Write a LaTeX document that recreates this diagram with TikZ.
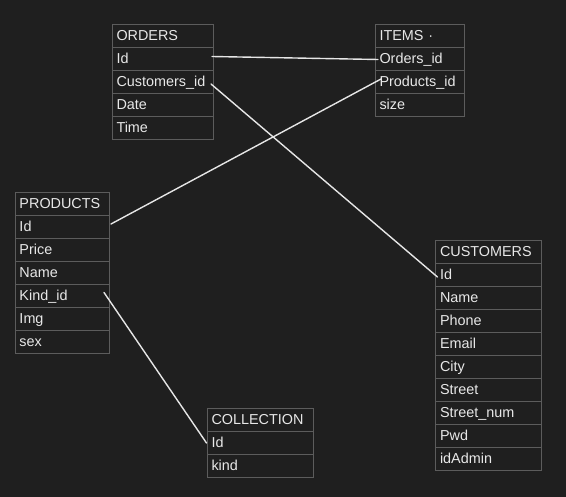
\documentclass[tikz,border=0pt]{standalone}
\usepackage{fontspec}
\setmainfont{Liberation Sans}
\usetikzlibrary{positioning}

\definecolor{bgdark}{HTML}{1F1F1F}
\definecolor{gridline}{HTML}{5C5C5C}
\definecolor{textlight}{HTML}{E8E8E8}
\definecolor{linkwhite}{HTML}{E6E6E6}

\begin{document}
\begin{tikzpicture}[x=1pt,y=-1pt,line cap=round,
  cell/.style={draw=gridline,line width=1pt,text=textlight,
    font=\fontsize{14.4}{16}\selectfont,align=left,
    minimum height=23pt,inner xsep=4.5pt,inner ysep=0pt,outer sep=0pt,
    text height=10pt,text depth=0pt},
  link/.style={draw=linkwhite,line width=1.4pt}]
  % canvas
  \fill[bgdark] (0,0) rectangle (566,497);
  \useasboundingbox (0,0) rectangle (566,497);

  % ORDERS
  \node[cell,text width=92pt,anchor=north west] (ord) at (112,24.5) {ORDERS};
  \node[cell,text width=92pt,below=0pt of ord] (ordid) {Id};
  \node[cell,text width=92pt,below=0pt of ordid] (ordcust) {Customers\_id};
  \node[cell,text width=92pt,below=0pt of ordcust] (orddate) {Date};
  \node[cell,text width=92pt,below=0pt of orddate] (ordtime) {Time};

  % ITEMS
  \node[cell,text width=80pt,anchor=north west] (itm) at (375,24.5) {ITEMS ·};
  \node[cell,text width=80pt,below=0pt of itm] (itmord) {Orders\_id};
  \node[cell,text width=80pt,below=0pt of itmord] (itmprod) {Products\_id};
  \node[cell,text width=80pt,below=0pt of itmprod] (itmsize) {size};

  % PRODUCTS
  \node[cell,text width=85pt,anchor=north west] (prd) at (15,192.5) {PRODUCTS};
  \node[cell,text width=85pt,below=0pt of prd] (prdid) {Id};
  \node[cell,text width=85pt,below=0pt of prdid] (prdprice) {Price};
  \node[cell,text width=85pt,below=0pt of prdprice] (prdname) {Name};
  \node[cell,text width=85pt,below=0pt of prdname] (prdkind) {Kind\_id};
  \node[cell,text width=85pt,below=0pt of prdkind] (prdimg) {Img};
  \node[cell,text width=85pt,below=0pt of prdimg] (prdsex) {sex};

  % COLLECTION
  \node[cell,text width=97pt,anchor=north west] (col) at (207,408.5) {COLLECTION};
  \node[cell,text width=97pt,below=0pt of col] (colid) {Id};
  \node[cell,text width=97pt,below=0pt of colid] (colkind) {kind};

  % CUSTOMERS
  \node[cell,text width=97pt,anchor=north west] (cst) at (435.5,240.5) {CUSTOMERS};
  \node[cell,text width=97pt,below=0pt of cst] (cstid) {Id};
  \node[cell,text width=97pt,below=0pt of cstid] (cstname) {Name};
  \node[cell,text width=97pt,below=0pt of cstname] (cstphone) {Phone};
  \node[cell,text width=97pt,below=0pt of cstphone] (cstmail) {Email};
  \node[cell,text width=97pt,below=0pt of cstmail] (cstcity) {City};
  \node[cell,text width=97pt,below=0pt of cstcity] (cststreet) {Street};
  \node[cell,text width=97pt,below=0pt of cststreet] (cstnum) {Street\_num};
  \node[cell,text width=97pt,below=0pt of cstnum] (cstpwd) {Pwd};
  \node[cell,text width=97pt,below=0pt of cstpwd] (cstadmin) {idAdmin};

  % relations
  \draw[link] ([xshift=-1pt,yshift=2.5pt]ordid.east) -- ([xshift=3pt,yshift=-0.5pt]itmord.west);
  \draw[link] ([xshift=-2pt,yshift=-2pt]ordcust.east) -- ([xshift=2pt,yshift=-2pt]cstid.west);
  \draw[link] ([xshift=6pt,yshift=3pt]itmprod.west) -- ([xshift=2pt,yshift=3pt]prdid.east);
  \draw[link] ([xshift=-5pt,yshift=3.5pt]prdkind.east) -- ([xshift=-0.5pt]colid.west);
\end{tikzpicture}
\end{document}
